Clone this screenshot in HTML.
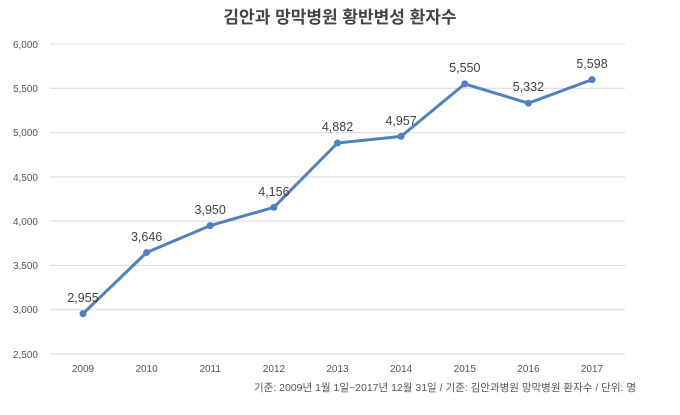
<!DOCTYPE html>
<html><head><meta charset="utf-8"><style>
body{margin:0;background:#fff;}
svg text{font-family:"Liberation Sans","Noto Sans CJK KR",sans-serif;}
</style></head><body>
<svg width="680" height="410" xmlns="http://www.w3.org/2000/svg">
<text x="340" y="23" text-anchor="middle" font-size="17" font-weight="bold" fill="#444">김안과 망막병원 황반변성 환자수</text>
<g stroke="#d9d9d9" stroke-width="1">
<line x1="50" x2="625" y1="44" y2="44"/><line x1="50" x2="625" y1="88.3" y2="88.3"/>
<line x1="50" x2="625" y1="132.6" y2="132.6"/><line x1="50" x2="625" y1="176.9" y2="176.9"/>
<line x1="50" x2="625" y1="221.1" y2="221.1"/><line x1="50" x2="625" y1="265.4" y2="265.4"/>
<line x1="50" x2="625" y1="309.7" y2="309.7"/><line x1="50" x2="625" y1="354" y2="354"/>
</g>
<g font-size="10" fill="#555" text-anchor="end">
<text x="38" y="48">6,000</text><text x="38" y="92">5,500</text><text x="38" y="136">5,000</text>
<text x="38" y="181">4,500</text><text x="38" y="225">4,000</text><text x="38" y="269">3,500</text>
<text x="38" y="313">3,000</text><text x="38" y="358">2,500</text>
</g>
<g font-size="10" fill="#555" text-anchor="middle">
<text x="83" y="372">2009</text><text x="146.6" y="372">2010</text><text x="210.2" y="372">2011</text>
<text x="273.9" y="372">2012</text><text x="337.5" y="372">2013</text><text x="401.1" y="372">2014</text>
<text x="464.8" y="372">2015</text><text x="528.4" y="372">2016</text><text x="592" y="372">2017</text>
</g>
<polyline fill="none" stroke="#4f81bd" stroke-width="3" stroke-linejoin="round" points="83,313.7 146.6,252.5 210.2,225.6 273.9,207.3 337.5,143 401.1,136.4 464.8,83.9 528.4,103.2 592,79.6"/>
<g fill="#4f81bd">
<circle cx="83" cy="313.7" r="3.5"/><circle cx="146.6" cy="252.5" r="3.5"/><circle cx="210.2" cy="225.6" r="3.5"/>
<circle cx="273.9" cy="207.3" r="3.5"/><circle cx="337.5" cy="143" r="3.5"/><circle cx="401.1" cy="136.4" r="3.5"/>
<circle cx="464.8" cy="83.9" r="3.5"/><circle cx="528.4" cy="103.2" r="3.5"/><circle cx="592" cy="79.6" r="3.5"/>
</g>
<g font-size="12.5" fill="#404040" text-anchor="middle">
<text x="83" y="302">2,955</text><text x="146.6" y="241">3,646</text><text x="210.2" y="214">3,950</text>
<text x="273.9" y="196">4,156</text><text x="337.5" y="131">4,882</text><text x="401.1" y="125">4,957</text>
<text x="464.8" y="72">5,550</text><text x="528.4" y="91">5,332</text><text x="592" y="68">5,598</text>
</g>
<text x="636" y="391" text-anchor="end" font-size="10.5" fill="#555" textLength="382" lengthAdjust="spacingAndGlyphs">기준: 2009년 1월 1일~2017년 12월 31일 / 기준: 김안과병원 망막병원 환자수 / 단위: 명</text>
</svg>
</body></html>
